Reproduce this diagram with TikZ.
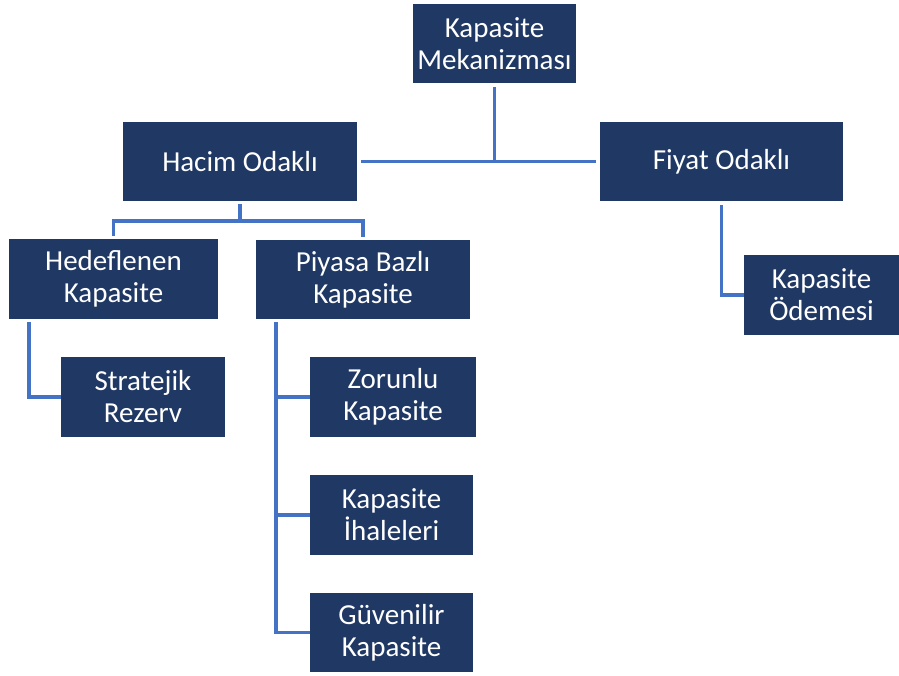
\documentclass[tikz,border=0pt]{standalone}
\usepackage{fontspec}
\setmainfont{Carlito}
\usepackage{tikz}
\definecolor{boxblue}{HTML}{203864}
\definecolor{linkblue}{HTML}{4472C4}

\begin{document}
\begin{tikzpicture}[x=1pt,y=-1pt,
  box/.style={fill=boxblue,text=white,align=center,inner sep=0pt,
    font=\fontsize{29}{32}\selectfont},
  link/.style={draw=linkblue,line width=3.2pt}]
\useasboundingbox (0,0) rectangle (899,675);
\node[box,minimum width=163pt,minimum height=79pt] (mek) at (494.5,43.5) {Kapasite\\Mekanizması};
\node[box,minimum width=234pt,minimum height=79pt] (hacim) at (240,161.5) {Hacim Odaklı};
\node[box,minimum width=243pt,minimum height=79pt] (fiyat) at (721.5,161.5) {Fiyat Odaklı};
\node[box,minimum width=209pt,minimum height=80pt] (hedef) at (113.5,279) {Hedeflenen\\Kapasite};
\node[box,minimum width=214pt,minimum height=79pt] (piyasa) at (363,279.5) {Piyasa Bazlı\\Kapasite};
\node[box,minimum width=155pt,minimum height=80pt] (odeme) at (821.5,295) {Kapasite\\Ödemesi};
\node[box,minimum width=164pt,minimum height=80pt] (strat) at (143,397) {Stratejik\\Rezerv};
\node[box,minimum width=166pt,minimum height=80pt] (zorunlu) at (393,397) {Zorunlu\\Kapasite};
\node[box,minimum width=163pt,minimum height=80pt] (ihale) at (391.5,515) {Kapasite\\İhaleleri};
\node[box,minimum width=163pt,minimum height=79pt] (guven) at (391.5,632.5) {Güvenilir\\Kapasite};
\coordinate (hsplit) at (240,221);
\coordinate (hedefdrop) at (29,322);
\coordinate (piyasadrop) at (276,322);
\draw[link] ([yshift=-4pt]mek.south) -- (mek.south |- hacim.east);
\draw[link] ([xshift=4pt]hacim.east) -- ([xshift=-4pt]fiyat.west);
\draw[link] ([yshift=-3pt]hacim.south) -- (hsplit) -| ([yshift=3pt]hedef.north);
\draw[link] (hsplit) -| ([yshift=3pt]piyasa.north);
\draw[link] (hedefdrop) |- (strat.west);
\draw[link] (piyasadrop) |- (guven.west);
\draw[link] (piyasadrop) |- (zorunlu.west);
\draw[link] (piyasadrop) |- (ihale.west);
\draw[link] ([yshift=-4pt]fiyat.south) |- (odeme.west);
\end{tikzpicture}
\end{document}
